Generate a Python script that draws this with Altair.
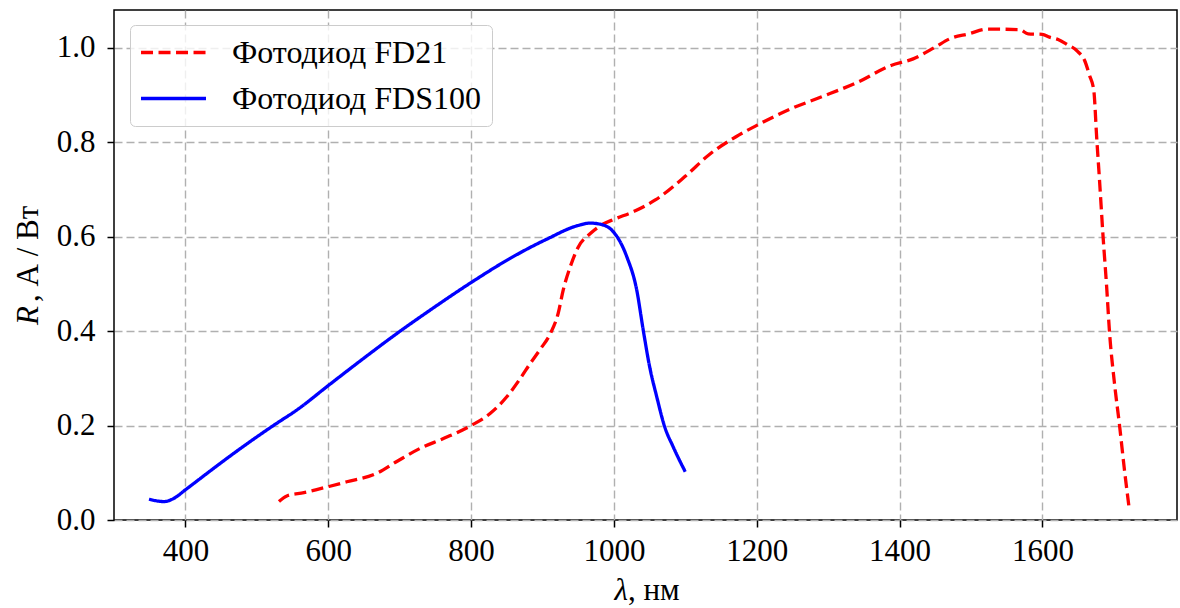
import altair as alt
import pandas as pd

# ---- data ----
fds_x = [349, 370, 384, 400, 440, 463, 524, 556, 601, 650, 696, 743, 800, 859, 906,
         950, 967, 985, 999, 1018, 1032, 1041, 1050, 1060, 1071, 1083, 1100]
fds_y = [0.044, 0.039, 0.046, 0.064, 0.110, 0.136, 0.201, 0.233, 0.286, 0.343, 0.395,
         0.445, 0.503, 0.558, 0.595, 0.624, 0.629, 0.625, 0.611, 0.558, 0.487, 0.403,
         0.325, 0.261, 0.198, 0.155, 0.102]

fd_x = [531, 542, 566, 601, 626, 668, 696, 729, 762, 800, 827, 850, 869, 883, 897, 911,
        922, 929, 939, 950, 967, 985, 1000, 1030, 1058, 1099, 1135, 1171, 1200, 1249,
        1290, 1342, 1388, 1419, 1450, 1471, 1497, 1523, 1568, 1580, 1600, 1610, 1622,
        1634, 1650, 1659, 1666, 1672, 1676, 1680, 1685, 1690, 1694, 1701, 1708, 1715, 1721]
fd_y = [0.039, 0.051, 0.058, 0.071, 0.081, 0.099, 0.124, 0.152, 0.173, 0.200, 0.226,
        0.261, 0.300, 0.332, 0.362, 0.395, 0.438, 0.487, 0.537, 0.578, 0.607, 0.627,
        0.637, 0.655, 0.678, 0.727, 0.776, 0.812, 0.836, 0.872, 0.896, 0.928, 0.963,
        0.977, 1.002, 1.020, 1.030, 1.040, 1.039, 1.030, 1.029, 1.023, 1.018, 1.008,
        0.992, 0.974, 0.942, 0.910, 0.811, 0.720, 0.600, 0.494, 0.398, 0.289, 0.201,
        0.105, 0.031]

series_names = ["Фотодиод FD21", "Фотодиод FDS100"]
series_colors = ["#ff0000", "#0000ff"]
series_dash = [[12, 5.5], [1, 0]]

x_ticks = [400, 600, 800, 1000, 1200, 1400, 1600]
y_ticks = [0.0, 0.2, 0.4, 0.6, 0.8, 1.0]

rows = []
for i, (xv, yv) in enumerate(zip(fd_x, fd_y)):
    rows.append({"lam": xv, "R": yv, "s": series_names[0], "o": i})
for i, (xv, yv) in enumerate(zip(fds_x, fds_y)):
    rows.append({"lam": xv, "R": yv, "s": series_names[1], "o": i})
df = pd.DataFrame(rows)

FONT = "Liberation Serif"
FS = 31
LFS = 32

leg = alt.Legend(
    title=None, orient="none", legendX=16, legendY=15,
    symbolType="M-2.24,0H2.24", symbolSize=841, symbolStrokeWidth=3.3,
    symbolOffset=16,
    labelFont=FONT, labelFontSize=LFS, labelColor="black", labelOffset=42,
    rowPadding=13, padding=11, fillColor="rgba(255,255,255,0.8)",
    strokeColor="#cccccc", cornerRadius=5, labelLimit=400,
)

lines = alt.Chart(df).mark_line(strokeWidth=3.3, interpolate="monotone").encode(
    x=alt.X("lam:Q", scale=alt.Scale(domain=[300, 1788.5], nice=False, zero=False),
            axis=alt.Axis(values=x_ticks, title=None, format="d")),
    y=alt.Y("R:Q", scale=alt.Scale(domain=[0, 1.0805], nice=False, zero=False),
            axis=alt.Axis(values=y_ticks, title=None, format=".1f")),
    color=alt.Color("s:N", scale=alt.Scale(domain=series_names, range=series_colors), legend=leg),
    strokeDash=alt.StrokeDash("s:N", scale=alt.Scale(domain=series_names, range=series_dash), legend=leg),
    order="o:Q",
)

one = pd.DataFrame({"k": [0]})
xt1 = alt.Chart(one).mark_text(text="λ", font=FONT, fontSize=FS, fontStyle="italic",
                               align="right", baseline="alphabetic", color="black").encode(
    x=alt.value(514), y=alt.value(590))
xt2 = alt.Chart(one).mark_text(text=", нм", font=FONT, fontSize=FS,
                               align="left", baseline="alphabetic", color="black").encode(
    x=alt.value(514), y=alt.value(590))
yt1 = alt.Chart(one).mark_text(text="R", font=FONT, fontSize=FS, fontStyle="italic", angle=270,
                               align="left", baseline="alphabetic", color="black").encode(
    x=alt.value(-76), y=alt.value(315))
yt2 = alt.Chart(one).mark_text(text=", А / Вт", font=FONT, fontSize=FS, angle=270,
                               align="left", baseline="alphabetic", color="black").encode(
    x=alt.value(-76), y=alt.value(292))

chart = alt.layer(lines, xt1, xt2, yt1, yt2).properties(
    width=1063, height=510,
    autosize=alt.AutoSizeParams(type="none"),
    padding={"left": 114, "top": 10, "right": 3, "bottom": 88},
    background="white",
).configure_view(
    stroke="black", strokeWidth=1.5
).configure_axis(
    domain=False,
    labelFont=FONT, labelFontSize=FS, labelColor="black",
    ticks=True, tickColor="black", tickSize=7, tickWidth=1.5,
    grid=True, gridColor="#b0b0b0", gridDash=[8, 4], gridWidth=1.4,
    labelPadding=9,
).configure_axisY(
    labelPadding=12
)

chart.save("out.html", embed_options={"renderer": "svg", "actions": False})
